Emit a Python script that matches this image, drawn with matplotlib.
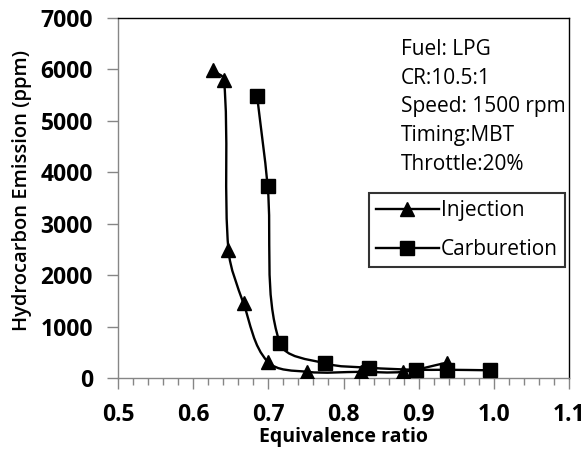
import matplotlib
matplotlib.use("Agg")
import matplotlib.pyplot as plt
from matplotlib.path import Path
from matplotlib.patches import PathPatch
from matplotlib.lines import Line2D
from matplotlib.ticker import MultipleLocator, FormatStrFormatter
import numpy as np

# values
inj_x = [0.626, 0.641, 0.647, 0.667, 0.699, 0.752, 0.823, 0.879, 0.938]
inj_y = [5980, 5800, 2480, 1450, 320, 120, 120, 120, 300]

carb_x = [0.685, 0.699, 0.715, 0.775, 0.834, 0.896, 0.938, 0.995]
carb_y = [5490, 3740, 690, 285, 200, 160, 160, 150]

info_lines = ["Fuel: LPG", "CR:10.5:1", "Speed: 1500 rpm", "Timing:MBT", "Throttle:20%"]

FONT = "Open Sans"
GRAY = "#868686"


def smooth_path(ax, xs, ys):
    # smoothed line like excel: bezier through the points, tangents worked
    # out in pixel space and scaled by segment length so it doesn't overshoot
    tr = ax.transData
    p = tr.transform(np.column_stack([xs, ys]))
    n = len(p)
    verts = [p[0]]
    codes = [Path.MOVETO]
    tang = []
    for i in range(n):
        a = p[max(i - 1, 0)]
        b = p[min(i + 1, n - 1)]
        d = b - a
        tang.append(d / (np.hypot(*d) + 1e-9))
    for i in range(n - 1):
        seg = np.hypot(*(p[i + 1] - p[i]))
        c1 = p[i] + tang[i] * seg / 3.0
        c2 = p[i + 1] - tang[i + 1] * seg / 3.0
        verts += [c1, c2, p[i + 1]]
        codes += [Path.CURVE4] * 3
    verts = tr.inverted().transform(np.array(verts))
    return Path(verts, codes)


fig = plt.figure(figsize=(5.87, 4.54), dpi=100)
ax = fig.add_axes([118 / 587, 1 - 378 / 454, 451 / 587, 360 / 454])
ax.set_xlim(0.5, 1.1)
ax.set_ylim(0, 7000)

for xs, ys, mk in [(inj_x, inj_y, "^"), (carb_x, carb_y, "s")]:
    ax.add_patch(PathPatch(smooth_path(ax, xs, ys), facecolor="none",
                           edgecolor="black", lw=1.7, zorder=2))
    ax.plot(xs, ys, ls="none", marker=mk, ms=9.5, color="black", zorder=3)

ax.xaxis.set_major_locator(MultipleLocator(0.1))
ax.xaxis.set_minor_locator(MultipleLocator(0.02))
ax.yaxis.set_major_locator(MultipleLocator(1000))
ax.xaxis.set_major_formatter(FormatStrFormatter("%.1f"))

for s in ["left", "bottom"]:
    ax.spines[s].set_color(GRAY)
    ax.spines[s].set_linewidth(1.0)
for s in ["top", "right"]:
    ax.spines[s].set_color("black")
    ax.spines[s].set_linewidth(1.0)

ax.tick_params(axis="both", which="major", direction="out", length=8, width=1,
               color=GRAY, pad=10)
ax.tick_params(axis="x", which="minor", direction="out", length=5, width=1, color=GRAY)
for lab in ax.get_xticklabels() + ax.get_yticklabels():
    lab.set_fontfamily(FONT)
    lab.set_fontweight("bold")
    lab.set_fontsize(16.5)

ax.set_xlabel("Equivalence ratio", fontfamily=FONT, fontweight="bold", fontsize=14)
ax.set_ylabel("Hydrocarbon Emission (ppm)", fontfamily=FONT, fontweight="semibold", fontsize=14.5)
ax.xaxis.set_label_coords(0.5, -0.135)
ax.yaxis.set_label_coords(-0.19, 0.52)

for i, t in enumerate(info_lines):
    fig.text(401 / 587, 1 - (55 + 28.7 * i) / 454, t, fontfamily=FONT,
             fontsize=15, ha="left", va="baseline")

handles = [Line2D([], [], color="black", lw=1.7, marker="^", ms=9.5),
           Line2D([], [], color="black", lw=1.7, marker="s", ms=9.5)]
leg = fig.legend(handles, ["Injection", "Carburetion"], loc="upper right",
                 bbox_to_anchor=(565 / 587, 1 - 193 / 454), frameon=True,
                 fancybox=False, prop={"family": FONT, "size": 15},
                 handlelength=3.0, handletextpad=0.1, borderpad=0.35,
                 labelspacing=0.85, borderaxespad=0, handleheight=0.7)
leg.get_frame().set_edgecolor("black")
leg.get_frame().set_linewidth(1.5)

fig.savefig("out.png", dpi=100)
